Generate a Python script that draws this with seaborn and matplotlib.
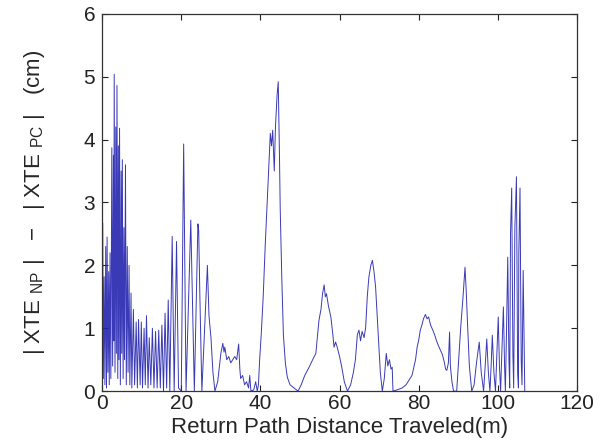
import matplotlib
matplotlib.use("Agg")
import matplotlib.pyplot as plt
import seaborn as sns
import pandas as pd

# Path distance (m) and cross-track error difference (cm), traced vertex by vertex
distance_m = [
    0.0, 0.15, 0.3, 0.5, 0.7, 0.9, 1.1, 1.25, 1.45, 1.65, 1.8, 2.0, 2.2, 2.45, 2.65,
    2.85, 2.95, 3.05, 3.25, 3.45, 3.6, 3.75, 3.95, 4.1, 4.25, 4.4, 4.6, 4.8, 4.95,
    5.1, 5.3, 5.5, 5.65, 5.9, 6.1, 6.35, 6.55, 6.8, 7.0, 7.3, 7.5, 7.9, 8.2, 8.6,
    8.9, 9.2, 9.6, 9.9, 10.2, 10.6, 10.9, 11.2, 11.6, 11.9, 12.3, 12.7, 13.1, 13.5,
    13.9, 14.3, 14.7, 15.1, 15.5, 15.9, 16.3, 16.7, 17.1, 17.7, 18.2, 18.8, 19.3,
    20.0, 20.6, 21.2, 22.4, 23.3, 24.2, 24.4, 24.7, 25.2, 26.6, 27.0, 27.5, 28.0,
    28.5, 29.2, 30.0, 30.5, 30.8, 31.0, 31.5, 32.0, 32.5, 33.0, 33.5, 34.0, 34.5,
    34.8, 35.0, 35.5, 36.0, 36.5, 37.0, 37.3, 37.6, 38.3, 38.8, 39.2, 39.5, 39.8,
    40.2, 40.7, 41.2, 41.7, 42.2, 42.5, 42.8, 43.1, 43.5, 43.8, 44.2, 44.5, 44.8,
    45.0, 45.4, 45.8, 46.3, 46.8, 47.5, 48.5, 49.5, 50.3, 51.2, 52.3, 53.2, 54.0,
    54.8, 55.3, 55.7, 56.1, 56.4, 56.7, 57.2, 57.8, 58.3, 58.6, 59.0, 59.4, 60.0,
    60.5, 61.2, 62.0, 62.8, 63.5, 64.0, 64.5, 64.9, 65.3, 65.7, 66.2, 66.6, 67.0,
    67.4, 67.9, 68.3, 68.7, 69.1, 69.5, 69.9, 70.3, 70.8, 71.3, 71.8, 72.2, 72.6,
    73.0, 73.3, 73.5, 74.5, 75.8, 76.8, 77.5, 78.3, 79.2, 79.6, 80.0, 80.4, 80.8,
    81.2, 81.7, 82.1, 82.5, 83.0, 83.5, 84.0, 84.5, 85.0, 85.5, 86.0, 86.5, 86.8,
    87.1, 87.5, 87.8, 88.0, 88.4, 88.8, 89.6, 90.2, 90.6, 91.2, 91.7, 92.0, 92.3,
    92.8, 93.4, 94.0, 94.6, 95.3, 95.8, 96.4, 96.8, 97.2, 97.6, 98.0, 98.3, 98.6,
    99.0, 99.4, 99.7, 100.1, 100.4, 100.7, 101.0, 101.4, 101.7, 101.9, 102.2,
    102.5, 102.8, 103.0, 103.2, 103.5, 103.8, 104.0, 104.3, 104.7, 105.0, 105.2,
    105.3, 105.6, 105.9, 106.1, 106.4, 106.8,
]
xte_diff_cm = [
    0.0, 2.67, 0.2, 1.82, 0.1, 2.3, 0.05, 2.45, 0.3, 1.9, 0.1, 2.2, 0.2, 3.87, 0.4,
    3.75, 0.8, 5.04, 0.3, 4.2, 0.6, 4.86, 0.2, 3.9, 0.5, 4.18, 0.1, 3.5, 0.6,
    3.68, 0.2, 2.6, 0.5, 3.6, 0.1, 2.3, 0.3, 2.0, 0.1, 1.56, 0.05, 1.3, 0.1, 1.1,
    0.05, 1.14, 0.1, 1.1, 0.05, 1.0, 0.1, 1.2, 0.05, 0.85, 0.1, 1.0, 0.05, 0.95,
    0.05, 0.97, 0.05, 1.05, 0.0, 1.24, 0.05, 1.45, 0.0, 2.46, 0.0, 2.38, 0.05,
    0.0, 3.93, 0.0, 2.72, 0.0, 2.66, 2.55, 1.5, 0.0, 2.0, 1.2, 0.85, 0.3,
    0.0, 0.15, 0.6, 0.76, 0.62, 0.7, 0.5, 0.55, 0.45, 0.5, 0.55, 0.5, 0.75,
    0.35, 0.2, 0.25, 0.1, 0.15, 0.05, 0.25, 0.0, 0.02, 0.15, 0.0, 0.1, 0.5,
    0.9, 1.5, 2.3, 3.0, 3.7, 4.1, 3.9, 4.15, 3.5, 4.2, 4.7, 4.92, 3.8,
    2.9, 1.8, 0.9, 0.45, 0.22, 0.1, 0.05, 0.0, 0.1, 0.25, 0.38, 0.5, 0.6,
    1.13, 1.3, 1.55, 1.69, 1.5, 1.55, 1.35, 1.18, 0.9, 0.7, 0.78, 0.7, 0.55,
    0.4, 0.15, 0.0, 0.1, 0.3, 0.5, 0.9, 0.97, 0.8, 0.95, 0.85, 1.02, 1.5,
    1.81, 2.0, 2.08, 1.9, 1.66, 1.2, 0.76, 0.3, 0.0, 0.2, 0.6, 0.4, 0.5,
    0.35, 0.38, 0.0, 0.02, 0.05, 0.1, 0.17, 0.25, 0.5, 0.7, 0.81, 0.97, 1.05,
    1.15, 1.22, 1.15, 1.18, 1.05, 0.98, 0.9, 0.8, 0.72, 0.65, 0.58, 0.45, 0.35,
    0.33, 0.45, 0.94, 0.4, 0.15, 0.0, 0.0, 0.6, 1.0, 1.5, 1.97, 1.6, 1.13,
    0.4, 0.0, 0.1, 0.45, 0.78, 0.3, 0.0, 0.4, 0.83, 0.3, 0.0, 0.4, 0.89,
    0.3, 0.0, 0.5, 1.18, 0.4, 0.0, 0.6, 1.34, 0.4, 0.0, 1.0,
    2.13, 0.5, 0.05, 2.5, 3.23, 0.6, 0.05, 2.6, 3.41, 0.3, 0.05,
    2.2, 3.23, 0.5, 0.1, 1.92, 0.0,
]

x_ticks = [0, 20, 40, 60, 80, 100, 120]
y_ticks = [0, 1, 2, 3, 4, 5, 6]

sns.set_style("ticks")
plt.rcParams["font.family"] = ["Liberation Sans", "DejaVu Sans"]
plt.rcParams["mathtext.fontset"] = "custom"
plt.rcParams["mathtext.rm"] = "Liberation Sans"
plt.rcParams["mathtext.it"] = "Liberation Sans:italic"

df = pd.DataFrame({"distance": distance_m, "diff": xte_diff_cm})

fig = plt.figure(figsize=(6.08, 4.46), dpi=100)
ax = fig.add_axes([0.168, 0.123, 0.781, 0.846])

sns.lineplot(data=df, x="distance", y="diff", sort=False, estimator=None,
             color="#2424b0", linewidth=0.7, alpha=0.9, ax=ax)

ax.set_xlim(0, 120)
ax.set_ylim(0, 6)
ax.set_xticks(x_ticks)
ax.set_yticks(y_ticks)
ax.tick_params(direction="in", length=4, width=0.8, top=True, right=True,
               labelsize=15, colors="#222222")
ax.tick_params(axis="x", pad=2)
ax.tick_params(axis="y", pad=5)
for s in ax.spines.values():
    s.set_visible(True)
    s.set_linewidth(0.9)
    s.set_color("#333333")

ax.set_xlabel("Return Path Distance Traveled(m)", fontsize=16, labelpad=3)
ax.set_ylabel(r"| XTE $_{\rm NP}$ |   $-$   | XTE $_{\rm PC}$ |   (cm)",
              fontsize=16, labelpad=26)

fig.savefig("out.png", dpi=100)
